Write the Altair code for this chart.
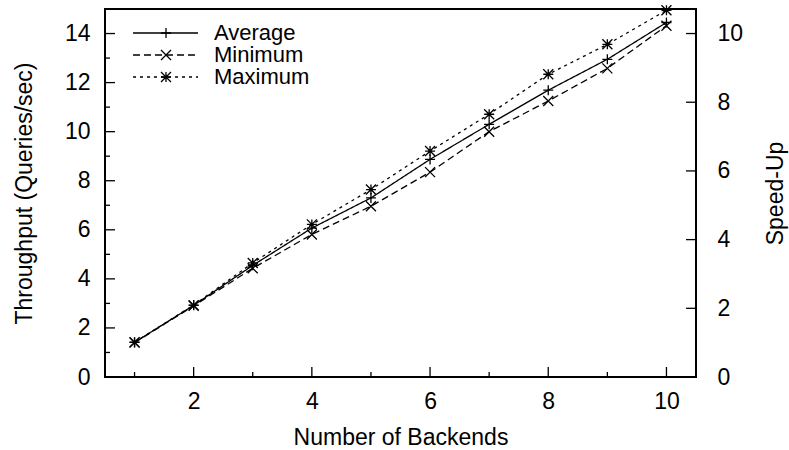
import altair as alt
import pandas as pd

# Throughput measured for 1..10 backends
backends = [1, 2, 3, 4, 5, 6, 7, 8, 9, 10]
avg_tp = [1.41, 2.92, 4.55, 6.07, 7.30, 8.87, 10.30, 11.69, 12.95, 14.45]
min_tp = [1.40, 2.90, 4.43, 5.81, 6.96, 8.35, 10.00, 11.25, 12.58, 14.32]
max_tp = [1.42, 2.93, 4.65, 6.22, 7.64, 9.21, 10.71, 12.34, 13.56, 14.95]
series_names = ["Average", "Minimum", "Maximum"]

# Axis ticks
y_major = [0, 2, 4, 6, 8, 10, 12, 14]
y_minor = [1, 3, 5, 7, 9, 11, 13]
x_major = [2, 4, 6, 8, 10]
x_minor = [1, 3, 5, 7, 9]
speedup_ticks = [0, 2, 4, 6, 8, 10]

# Speed-up is throughput relative to a single backend
SINGLE_BACKEND = 1.4
Y_MAX = 15

W, H = 591, 368
FONT = "Liberation Sans"
FS = 23
KEY_FS = 22
LW = 1.3

df = pd.DataFrame({
    "backends": backends * 3,
    "throughput": avg_tp + min_tp + max_tp,
    "series": [n for n in series_names for _ in backends],
})

PLUS = "M-1,0L1,0M0,-1L0,1"
CROSS = "M-1,-1L1,1M-1,1L1,-1"
STAR = "M-1,0L1,0M0,-1L0,1M-1,-1L1,1M-1,1L1,-1"

x_scale = alt.Scale(domain=[0.5, 10.5], nice=False, zero=False)
y_scale = alt.Scale(domain=[0, Y_MAX], nice=False)

dash = alt.StrokeDash(
    "series:N",
    scale=alt.Scale(domain=series_names, range=[[1, 0], [7, 4], [3, 4]]),
    legend=None,
)
shape = alt.Shape(
    "series:N",
    scale=alt.Scale(domain=series_names, range=[PLUS, CROSS, STAR]),
    legend=None,
)

x_axis = alt.Axis(
    orient="bottom", values=x_major, ticks=False, tickSize=0, domain=False,
    grid=False, labelPadding=13, labelFlush=False,
    title="Number of Backends", titleX=W / 2, titleY=67,
    titleBaseline="alphabetic", titleAlign="center",
)
y_axis = alt.Axis(
    orient="left", values=y_major, ticks=False, tickSize=0, domain=False,
    grid=False, labelPadding=15, labelFlush=False,
    title="Throughput (Queries/sec)", titleAngle=270, titleX=-81, titleY=H / 2,
    titleBaseline="middle", titleAlign="center",
)

# Every layer of the main panel shares the same x/y scales and axes
lines = alt.Chart(df).mark_line(color="black", strokeWidth=LW).encode(
    x=alt.X("backends:Q", scale=x_scale, axis=x_axis),
    y=alt.Y("throughput:Q", scale=y_scale, axis=y_axis),
    strokeDash=dash, detail="series:N",
)
points = alt.Chart(df).mark_point(
    filled=False, color="black", strokeWidth=LW, size=100, opacity=1
).encode(
    x=alt.X("backends:Q", scale=x_scale, axis=x_axis),
    y=alt.Y("throughput:Q", scale=y_scale, axis=y_axis),
    shape=shape,
)

# Inward tick marks along the left and bottom frame
def ytick_layer(values, length):
    d = pd.DataFrame({"throughput": values})
    return alt.Chart(d).mark_rule(color="black", strokeWidth=LW).encode(
        y=alt.Y("throughput:Q", scale=y_scale, axis=y_axis),
        x=alt.value(0), x2=alt.value(length),
    )

def xtick_layer(values, length):
    d = pd.DataFrame({"backends": values})
    return alt.Chart(d).mark_rule(color="black", strokeWidth=LW).encode(
        x=alt.X("backends:Q", scale=x_scale, axis=x_axis),
        y=alt.value(H - length), y2=alt.value(H),
    )

left_group = alt.layer(
    lines, points,
    ytick_layer(y_major, 10), ytick_layer(y_minor, 5),
    xtick_layer(x_major, 10), xtick_layer(x_minor, 5),
)

# Right-hand speed-up axis
right_group = alt.Chart(pd.DataFrame({"speedup": speedup_ticks})).mark_rule(
    color="black", strokeWidth=LW
).encode(
    y=alt.Y(
        "speedup:Q",
        scale=alt.Scale(domain=[0, Y_MAX / SINGLE_BACKEND], nice=False),
        axis=alt.Axis(
            orient="right", values=speedup_ticks, ticks=False, tickSize=0,
            domain=False, grid=False, labelPadding=21, labelFlush=False,
            title="Speed-Up", titleAngle=270, titleX=79, titleY=H / 2,
            titleBaseline="middle", titleAlign="center",
        ),
    ),
    x=alt.value(W - 10), x2=alt.value(W),
)

# Key in the upper-left corner
key_df = pd.DataFrame({"series": series_names})
key_y = alt.Y(
    "series:N",
    scale=alt.Scale(type="point", domain=series_names, range=[24, 68], padding=0),
    axis=None,
)
key_lines = alt.Chart(key_df).mark_rule(color="black", strokeWidth=LW).encode(
    y=key_y, x=alt.value(28), x2=alt.value(93), strokeDash=dash
)
key_marks = alt.Chart(key_df).mark_point(
    filled=False, color="black", strokeWidth=LW, size=100, opacity=1
).encode(y=key_y, x=alt.value(61), shape=shape)
key_text = alt.Chart(key_df).mark_text(
    align="left", baseline="middle", font=FONT, fontSize=KEY_FS, color="black"
).encode(y=key_y, x=alt.value(109), text="series:N")
key_group = alt.layer(key_lines, key_marks, key_text)

chart = (
    alt.layer(left_group, right_group, key_group)
    .resolve_scale(y="independent")
    .properties(
        width=W, height=H,
        autosize=alt.AutoSizeParams(type="none"),
        padding={"left": 105, "top": 9, "right": 93, "bottom": 73},
        background="white",
    )
    .configure_view(stroke="black", strokeWidth=2)
    .configure_axis(
        labelFont=FONT, labelFontSize=FS, labelColor="black",
        titleFont=FONT, titleFontSize=FS, titleColor="black",
        titleFontWeight="normal",
    )
)

chart.save("out.html", embed_options={"renderer": "svg", "actions": False})
